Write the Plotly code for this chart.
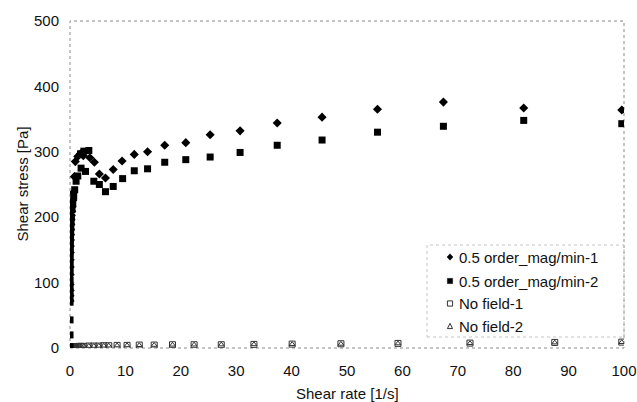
import plotly.graph_objects as go

# Series 1: 0.5 order_mag/min-1 (filled diamonds)
x1 = [0.01, 0.013, 0.016, 0.02, 0.025, 0.032, 0.04, 0.05, 0.063, 0.079, 0.1, 0.126,
      0.158, 0.2, 0.25, 0.32, 0.4, 0.5, 0.63, 0.79, 0.96, 1.4, 1.9, 2.4, 3.6, 4.4,
      5.3, 6.4, 7.8, 9.4, 11.6, 14.0, 17.1, 20.9, 25.3, 30.7, 37.4, 45.5, 55.5,
      67.4, 81.9, 99.6]
y1 = [72, 80, 88, 97, 112, 124, 135, 146, 156, 165, 173, 181, 189, 196, 203, 209,
      216, 226, 238, 262, 285, 293, 297, 294, 291, 284, 266, 260, 273, 286, 296,
      300, 310, 314, 326, 332, 344, 353, 365, 376, 367, 364]

# Series 2: 0.5 order_mag/min-2 (filled squares)
x2 = [0.002, 0.004, 0.006, 0.01, 0.013, 0.016, 0.02, 0.025, 0.032, 0.04, 0.05, 0.063,
      0.079, 0.1, 0.126, 0.158, 0.2, 0.25, 0.36, 0.5, 0.67, 0.85, 1.1, 1.4, 2.0,
      2.8, 1.9, 2.5, 3.4, 4.3, 5.3, 6.4, 7.8, 9.5, 11.6, 14.0, 17.1, 20.9, 25.3,
      30.7, 37.4, 45.5, 55.5, 67.4, 81.9, 99.6]
y2 = [2, 20, 43, 70, 78, 86, 95, 104, 118, 130, 142, 152, 162, 170, 178, 186, 193,
      200, 212, 222, 232, 242, 255, 263, 275, 270, 297, 301, 302, 255, 250, 239,
      247, 259, 271, 274, 284, 288, 292, 299, 310, 318, 330, 339, 348, 343]

# Series 3/4: No field-1 (open squares), No field-2 (open triangles)
x3 = [0.01, 0.05, 0.1, 0.2, 0.4, 0.6, 0.8, 1.0, 1.3, 1.6, 2.0, 2.5, 3.4, 4.3, 5.2,
      6.1, 7.0, 8.5, 10.3, 12.5, 15.2, 18.5, 22.4, 27.3, 33.2, 40.1, 48.9, 59.2,
      72.2, 87.5, 99.6]
y3 = [0.5, 1, 1, 1.5, 1.5, 2, 2, 2, 2, 2.5, 2.5, 2.5, 3, 3, 3, 3.5, 3.5, 4, 4, 4.5,
      4.5, 5, 5, 5, 5.5, 6, 6.5, 7, 7.5, 8.5, 9]
x4 = [0.01, 0.05, 0.1, 0.2, 0.4, 0.6, 0.8, 1.0, 1.3, 1.6, 2.0, 2.5, 3.4, 4.3, 5.2,
      6.1, 7.0, 8.5, 10.3, 12.5, 15.2, 18.5, 22.4, 27.3, 33.2, 40.1, 48.9, 59.2,
      72.2, 87.5, 99.6]
y4 = [0.5, 0.8, 1, 1.2, 1.5, 1.8, 2, 2, 2.2, 2.4, 2.5, 2.8, 3, 3, 3.2, 3.4, 3.5,
      3.8, 4, 4.2, 4.5, 4.8, 5, 5.2, 5.5, 5.8, 6.2, 6.8, 7.2, 8.2, 8.8]

names = ["0.5 order_mag/min-1", "0.5 order_mag/min-2", "No field-1", "No field-2"]
x_ticks = [0, 10, 20, 30, 40, 50, 60, 70, 80, 90, 100]
y_ticks = [0, 100, 200, 300, 400, 500]

FONT = "Liberation Sans, Arial, sans-serif"
FS = 15

W, H = 637, 402
ML, MR, MT, MB = 70, 13, 21, 54
PW, PH = W - ML - MR, H - MT - MB


def px_x(p):
    return (p - ML) / PW


def px_y(p):
    return (H - MB - p) / PH


fig = go.Figure()
fig.add_trace(go.Scatter(x=x3, y=y3, mode="markers", name=names[2],
                         marker=dict(symbol="square-open", size=6, color="#333",
                                     line=dict(width=1, color="#333"))))
fig.add_trace(go.Scatter(x=x4, y=y4, mode="markers", name=names[3],
                         marker=dict(symbol="triangle-up-open", size=5, color="#333",
                                     line=dict(width=1, color="#333"))))
fig.add_trace(go.Scatter(x=x1, y=y1, mode="markers", name=names[0],
                         marker=dict(symbol="diamond", size=7, color="black")))
fig.add_trace(go.Scatter(x=x2, y=y2, mode="markers", name=names[1],
                         marker=dict(symbol="square", size=7, color="black")))

# plot frame (dotted)
fig.add_shape(type="rect", xref="paper", yref="paper", x0=0, x1=1, y0=0, y1=1,
              line=dict(color="#8a8a8a", width=1, dash="dot"), layer="below")
# legend box (dotted, faint)
fig.add_shape(type="rect", xref="paper", yref="paper", x0=px_x(427), x1=1.0,
              y0=px_y(337), y1=px_y(245),
              line=dict(color="#c4c4c4", width=1, dash="dot"), layer="below")

# manual legend: small symbols + labels
rows = [257, 281, 303.5, 326]
mx = 450
h = 2.6
for i, (name, row) in enumerate(zip(names, rows)):
    xl, xr = px_x(mx - h), px_x(mx + h)
    yb, yt = px_y(row + h), px_y(row - h)
    xc, yc = px_x(mx), px_y(row)
    if i == 0:
        path = f"M {xc},{px_y(row - 3.2)} L {px_x(mx + 3.0)},{yc} L {xc},{px_y(row + 3.2)} L {px_x(mx - 3.0)},{yc} Z"
        fig.add_shape(type="path", xref="paper", yref="paper", path=path,
                      fillcolor="black", line=dict(color="black", width=0.5))
    elif i == 1:
        fig.add_shape(type="rect", xref="paper", yref="paper", x0=xl, x1=xr,
                      y0=yb, y1=yt, fillcolor="black",
                      line=dict(color="black", width=0.5))
    elif i == 2:
        fig.add_shape(type="rect", xref="paper", yref="paper", x0=xl, x1=xr,
                      y0=yb, y1=yt, fillcolor="white",
                      line=dict(color="#333", width=1))
    else:
        path = f"M {xc},{yt} L {xr},{yb} L {xl},{yb} Z"
        fig.add_shape(type="path", xref="paper", yref="paper", path=path,
                      fillcolor="white", line=dict(color="#333", width=1))
    fig.add_annotation(x=px_x(457), y=px_y(row), xref="paper", yref="paper",
                       text=name, showarrow=False, xanchor="left", yanchor="middle",
                       font=dict(family=FONT, size=FS, color="#111"))

# axis titles
fig.add_annotation(x=0.5, y=px_y(393), xref="paper", yref="paper",
                   text="Shear rate [1/s]", showarrow=False, xanchor="center",
                   yanchor="middle", font=dict(family=FONT, size=FS, color="#111"))
fig.add_annotation(x=px_x(22), y=0.5, xref="paper", yref="paper",
                   text="Shear stress [Pa]", showarrow=False, textangle=-90,
                   xanchor="center", yanchor="middle",
                   font=dict(family=FONT, size=FS, color="#111"))

fig.update_layout(
    width=W, height=H,
    margin=dict(l=ML, r=MR, t=MT, b=MB),
    paper_bgcolor="white", plot_bgcolor="white",
    font=dict(family=FONT, size=FS, color="#111"),
    showlegend=False,
    xaxis=dict(range=[0, 100], tickvals=x_ticks, showgrid=False, zeroline=False,
               showline=False, ticks="", automargin=False, ticklabelstandoff=12,
               tickfont=dict(family=FONT, size=FS, color="#111")),
    yaxis=dict(range=[0, 500], tickvals=y_ticks, showgrid=False, zeroline=False,
               showline=False, ticks="", automargin=False, ticklabelstandoff=10,
               tickfont=dict(family=FONT, size=FS, color="#111")),
)

fig.write_html(
    "out.html",
    config={"displayModeBar": False},
    post_script="document.body.style.margin='0';document.body.style.overflow='hidden';",
)
